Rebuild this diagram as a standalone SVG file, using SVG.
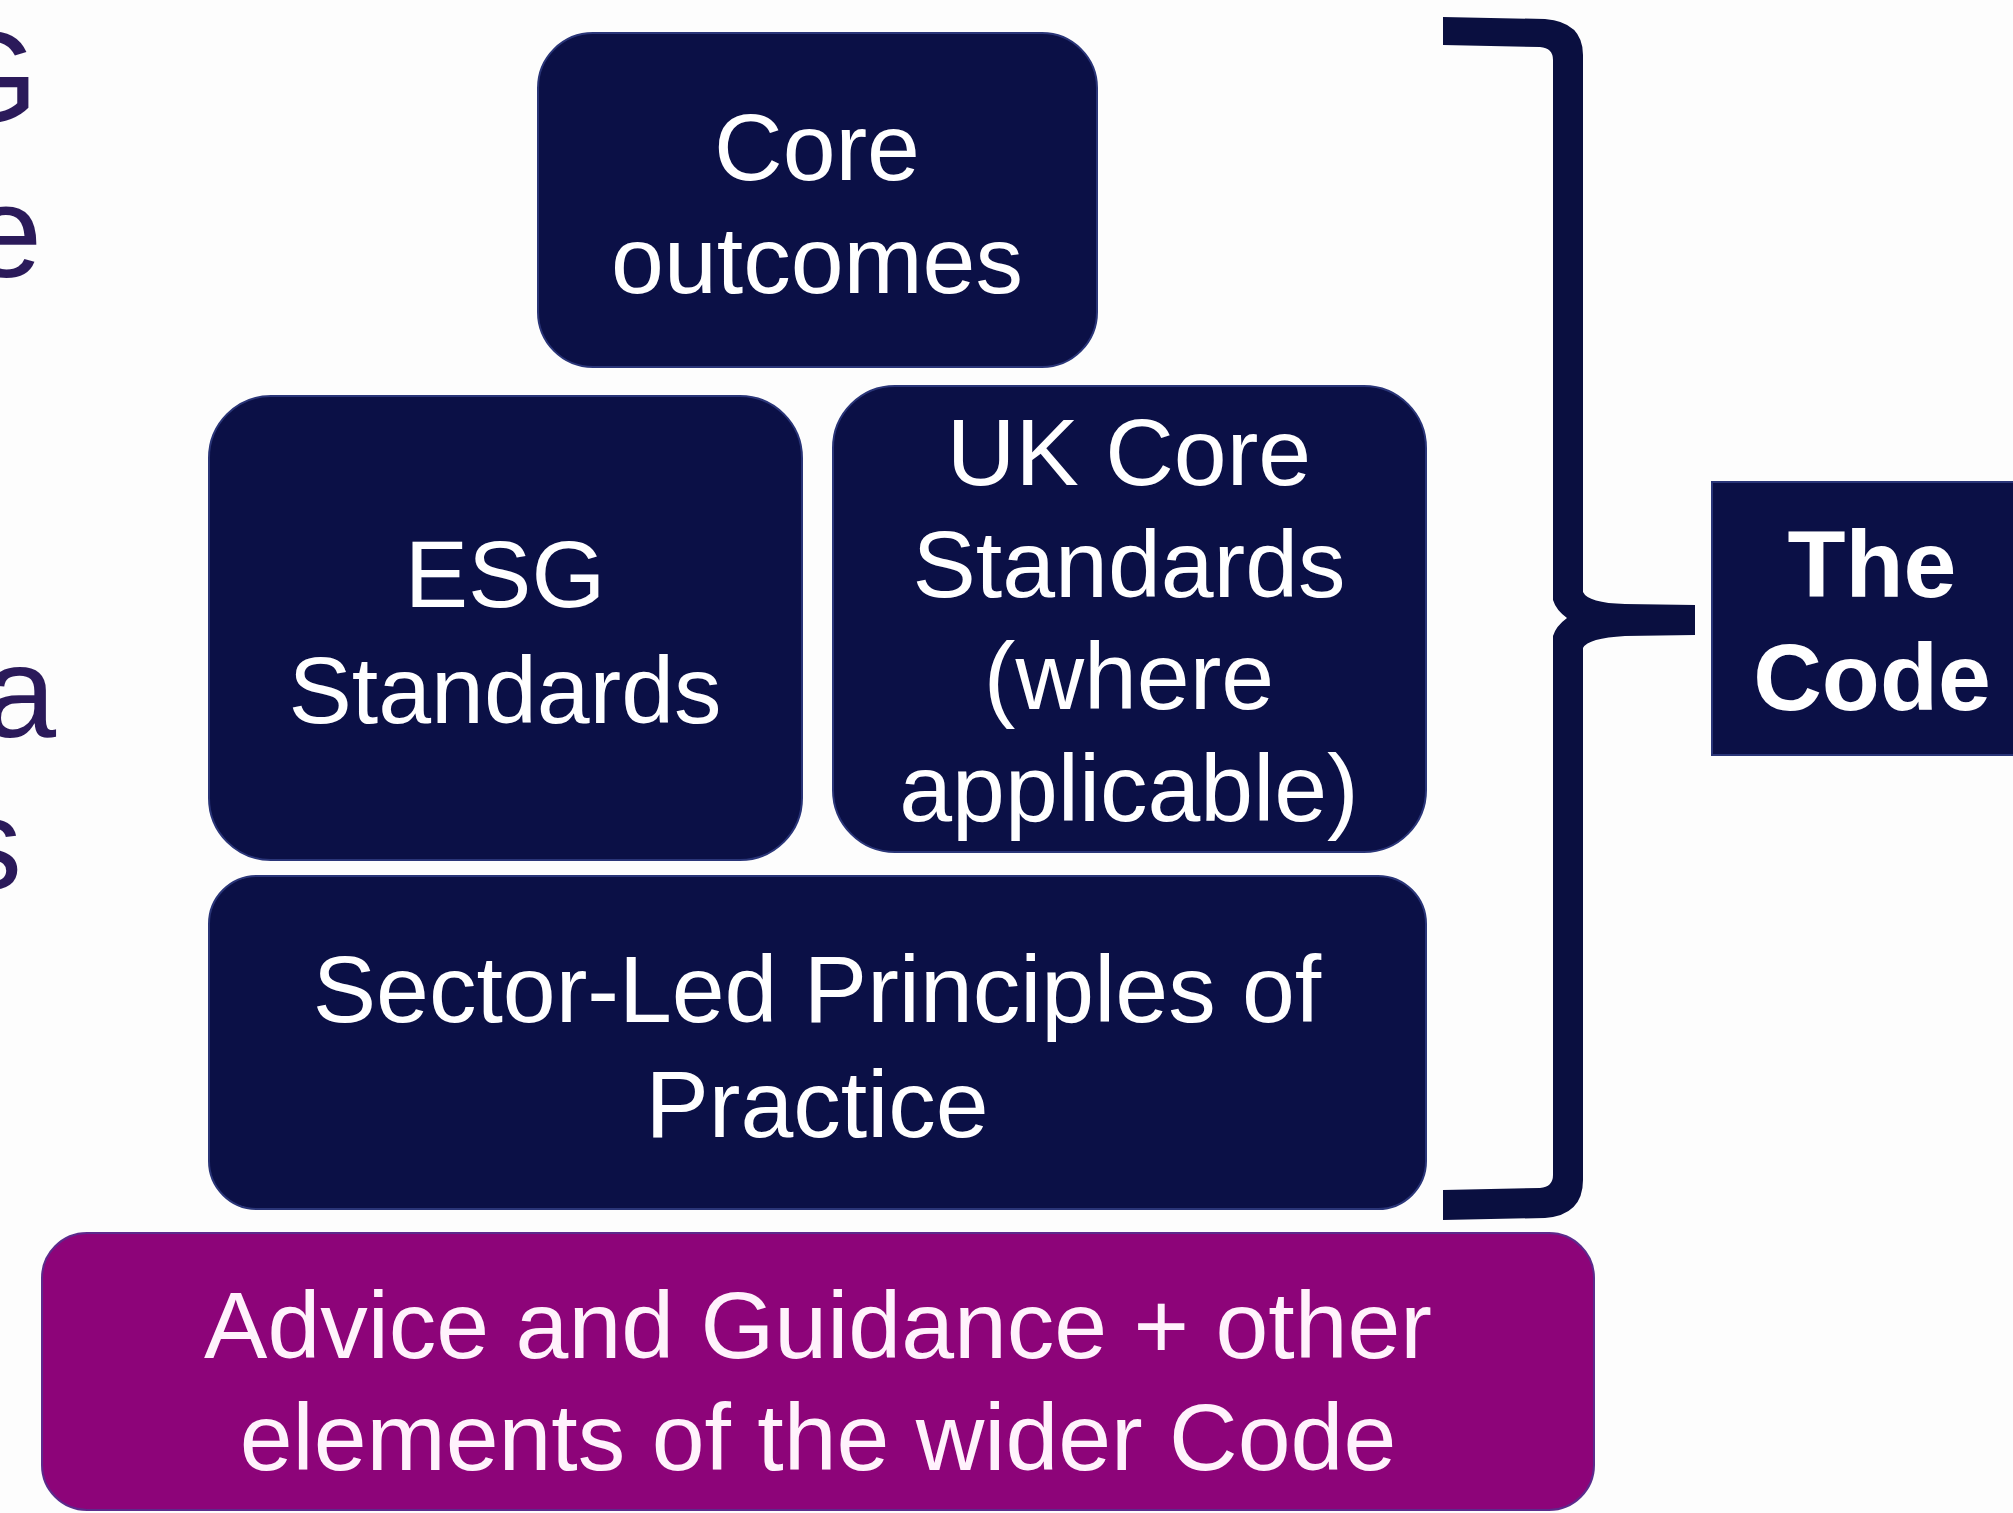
<svg xmlns="http://www.w3.org/2000/svg" width="2013" height="1513" viewBox="0 0 2013 1513">
  <style>
    .navy { fill: #0b1046; stroke: #2a3578; stroke-width: 2; }
    .purple { fill: #8d0479; stroke: #5c2a8c; stroke-width: 2; }
    .t { font-family: "Liberation Sans", Arial, sans-serif; font-size: 95px; fill: #ffffff; text-anchor: middle; }
    .tp { font-family: "Liberation Sans", Arial, sans-serif; font-size: 95px; fill: #fff2fc; text-anchor: middle; }
    .tb { font-family: "Liberation Sans", Arial, sans-serif; font-size: 95px; font-weight: bold; fill: #ffffff; text-anchor: middle; }
    .side { font-family: "Liberation Sans", Arial, sans-serif; font-size: 130px; fill: #2b1a5a; text-anchor: end; }
  </style>
  <rect x="0" y="0" width="2013" height="1513" fill="#fdfdfd"/>

  <g id="side-text">
    <text class="side" x="38" y="122">G</text>
    <text class="side" x="42" y="277">e</text>
    <text class="side" x="56" y="737">a</text>
    <text class="side" x="22" y="889">s</text>
  </g>

  <g id="core-outcomes">
    <rect class="navy" x="538" y="33" width="559" height="334" rx="55" ry="55"/>
    <text class="t" x="817" y="180">Core</text>
    <text class="t" x="817" y="293">outcomes</text>
  </g>

  <g id="esg-standards">
    <rect class="navy" x="209" y="396" width="593" height="464" rx="62" ry="62"/>
    <text class="t" x="505" y="607">ESG</text>
    <text class="t" x="505" y="723">Standards</text>
  </g>

  <g id="uk-core-standards">
    <rect class="navy" x="833" y="386" width="593" height="466" rx="62" ry="62"/>
    <text class="t" x="1129" y="485">UK Core</text>
    <text class="t" x="1129" y="597">Standards</text>
    <text class="t" x="1129" y="709">(where</text>
    <text class="t" x="1129" y="821">applicable)</text>
  </g>

  <g id="sector-led">
    <rect class="navy" x="209" y="876" width="1217" height="333" rx="48" ry="48"/>
    <text class="t" x="817" y="1022">Sector-Led Principles of</text>
    <text class="t" x="817" y="1137">Practice</text>
  </g>

  <g id="advice-guidance">
    <rect class="purple" x="42" y="1233" width="1552" height="277" rx="45" ry="45"/>
    <text class="tp" x="818" y="1358">Advice and Guidance + other</text>
    <text class="tp" x="818" y="1470">elements of the wider Code</text>
  </g>

  <g id="the-code">
    <rect x="1712" y="482" width="310" height="273" fill="#0b1046" stroke="#2a3578" stroke-width="2"/>
    <text class="tb" x="1872" y="597">The</text>
    <text class="tb" x="1872" y="710">Code</text>
  </g>

  <g id="connectors">
    <path fill="#0a0f40" d="M1443,17 L1545,19 Q1583,22 1583,55 L1583,592 Q1588,603 1625,604 L1695,605 L1695,635 L1625,636 Q1588,638 1583,648 L1583,1180 Q1583,1215 1545,1218 L1443,1220 L1443,1190 L1540,1188 Q1553,1187 1553,1175 L1553,636 Q1556,626 1567,618 Q1556,610 1553,600 L1553,60 Q1553,48 1540,47 L1443,45 Z"/>
  </g>
</svg>
